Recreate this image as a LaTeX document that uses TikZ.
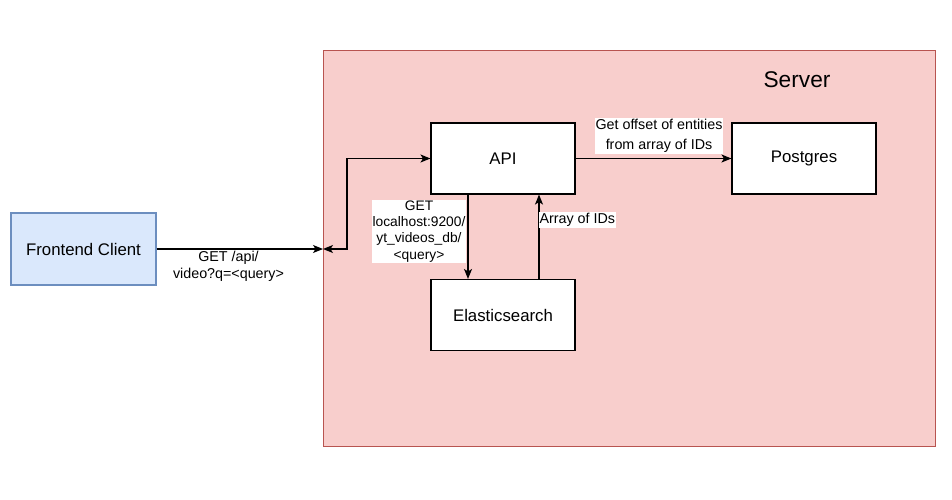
\documentclass[tikz,border=0pt]{standalone}
\usepackage{fontspec}
\setmainfont{Liberation Sans}
\usetikzlibrary{arrows.meta}
\definecolor{srvfill}{HTML}{F8CECC}
\definecolor{srvdraw}{HTML}{B85450}
\definecolor{fefill}{HTML}{DAE8FC}
\definecolor{fedraw}{HTML}{6C8EBF}
\begin{document}
\begin{tikzpicture}[x=1pt,y=-1pt,
  box/.style={draw=black, fill=white, line width=1.1pt, minimum width=144pt, minimum height=71pt, inner sep=0pt, font=\fontsize{16.8}{20}\selectfont},
  conn/.style={line width=1.1pt, -{Stealth[length=10pt,width=8pt,inset=2.5pt]}},
  lbl/.style={fill=white, inner sep=1pt, font=\fontsize{14.3}{20.5}\selectfont, align=center}]
\useasboundingbox (0,0) rectangle (952,500);
\node[draw=srvdraw, fill=srvfill, line width=0.9pt, minimum width=612pt, minimum height=396pt, inner sep=0pt] (server) at (629,248) {};
\node[font=\fontsize{22.7}{26}\selectfont] (srvlabel) at (797,80) {Server};
\node[box, draw=fedraw, fill=fefill, minimum width=145pt, minimum height=72pt] (fe) at (83.5,249) {Frontend Client};
\node[box] (api) at (503,158.5) {API};
\node[box] (pg) at (804,158.5) {Postgres};
\node[box] (es) at (503,315) {Elasticsearch};
\coordinate (sin) at (323,249);
\draw[conn] (fe.east) -- (sin);
\node[font=\fontsize{14.3}{17}\selectfont, align=center, inner sep=1pt] (felbl) at (228.5,266.5) {GET /api/\\video?q=<query>};
\draw[line width=1.1pt, {Stealth[length=10pt,width=8pt,inset=2.5pt]}-{Stealth[length=10pt,width=8pt,inset=2.5pt]}] (sin) -- (347,249) -- (347,158.5) -- (api.west);
\draw[conn] (api.south -| 468,0) -- (es.north -| 468,0);
\node[lbl, font=\fontsize{13.8}{16.2}\selectfont] (getlbl) at (419,231.5) {GET\\localhost:9200/\\yt\_videos\_db/\\<query>};
\draw[conn] (es.north -| 539,0) -- node[pos=0.7, lbl, right, xshift=-1pt, inner sep=1pt] {Array of IDs} (api.south -| 539,0);
\draw[conn] (api.east) -- (pg.west);
\node[lbl] (pglbl) at (659,136) {Get offset of entities\\from array of IDs};
\end{tikzpicture}
\end{document}
